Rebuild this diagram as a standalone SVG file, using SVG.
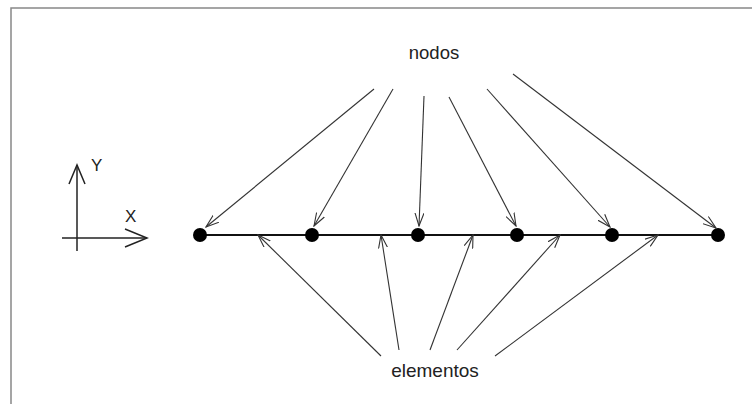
<svg xmlns="http://www.w3.org/2000/svg" width="752" height="404" viewBox="0 0 752 404">
<style>
.lbl{font-family:"Liberation Sans",Arial,sans-serif;fill:#222}
.conn{stroke:#333;stroke-width:1.1;fill:none;marker-end:url(#ah)}
.node{fill:#000}
</style>
<defs>
<marker id="ah" viewBox="0 0 14 10" refX="13" refY="5" markerWidth="14" markerHeight="10" markerUnits="userSpaceOnUse" orient="auto">
<path d="M0,0.5 L13,5 L0,9.5" fill="none" stroke="#333" stroke-width="1.1"/>
</marker>
</defs>
<rect width="752" height="404" fill="#fff"/>
<path d="M11,404 V8 H752" fill="none" stroke="#888" stroke-width="1.5"/>
<g id="axes" stroke="#222" stroke-width="1.5" fill="none">
<line x1="77" y1="165" x2="77" y2="251"/>
<line x1="62" y1="238" x2="147" y2="238"/>
<path d="M69,184 L77,165 L85,184"/>
<path d="M125,229 L147,238 L125,247"/>
</g>
<text class="lbl" x="91" y="171" font-size="17">Y</text>
<text class="lbl" x="125" y="222" font-size="17">X</text>
<g id="bar"><line x1="200" y1="235" x2="718" y2="235" stroke="#111" stroke-width="2"/></g>
<g id="n1"><circle class="node" cx="200" cy="235" r="7"/></g>
<g id="n2"><circle class="node" cx="312" cy="235" r="7"/></g>
<g id="n3"><circle class="node" cx="418" cy="235" r="7"/></g>
<g id="n4"><circle class="node" cx="517" cy="235" r="7"/></g>
<g id="n5"><circle class="node" cx="612" cy="235" r="7"/></g>
<g id="n6"><circle class="node" cx="718" cy="235" r="7"/></g>
<g id="nodos"><text class="lbl" x="434" y="59" font-size="18.5" text-anchor="middle">nodos</text></g>
<g id="elementos"><text class="lbl" x="435" y="377" font-size="19" text-anchor="middle">elementos</text></g>
<g id="connectors">
<line class="conn" x1="374" y1="89" x2="206" y2="227"/>
<line class="conn" x1="393" y1="89" x2="314" y2="226"/>
<line class="conn" x1="424" y1="96" x2="419" y2="226"/>
<line class="conn" x1="449" y1="97" x2="516" y2="226"/>
<line class="conn" x1="487" y1="89" x2="610" y2="227"/>
<line class="conn" x1="513" y1="74" x2="716" y2="228"/>
<line class="conn" x1="381" y1="356" x2="258" y2="235"/>
<line class="conn" x1="399" y1="350" x2="381" y2="235"/>
<line class="conn" x1="430" y1="350" x2="473" y2="235"/>
<line class="conn" x1="457" y1="350" x2="560" y2="235"/>
<line class="conn" x1="495" y1="356" x2="658" y2="235"/>
</g>
</svg>
